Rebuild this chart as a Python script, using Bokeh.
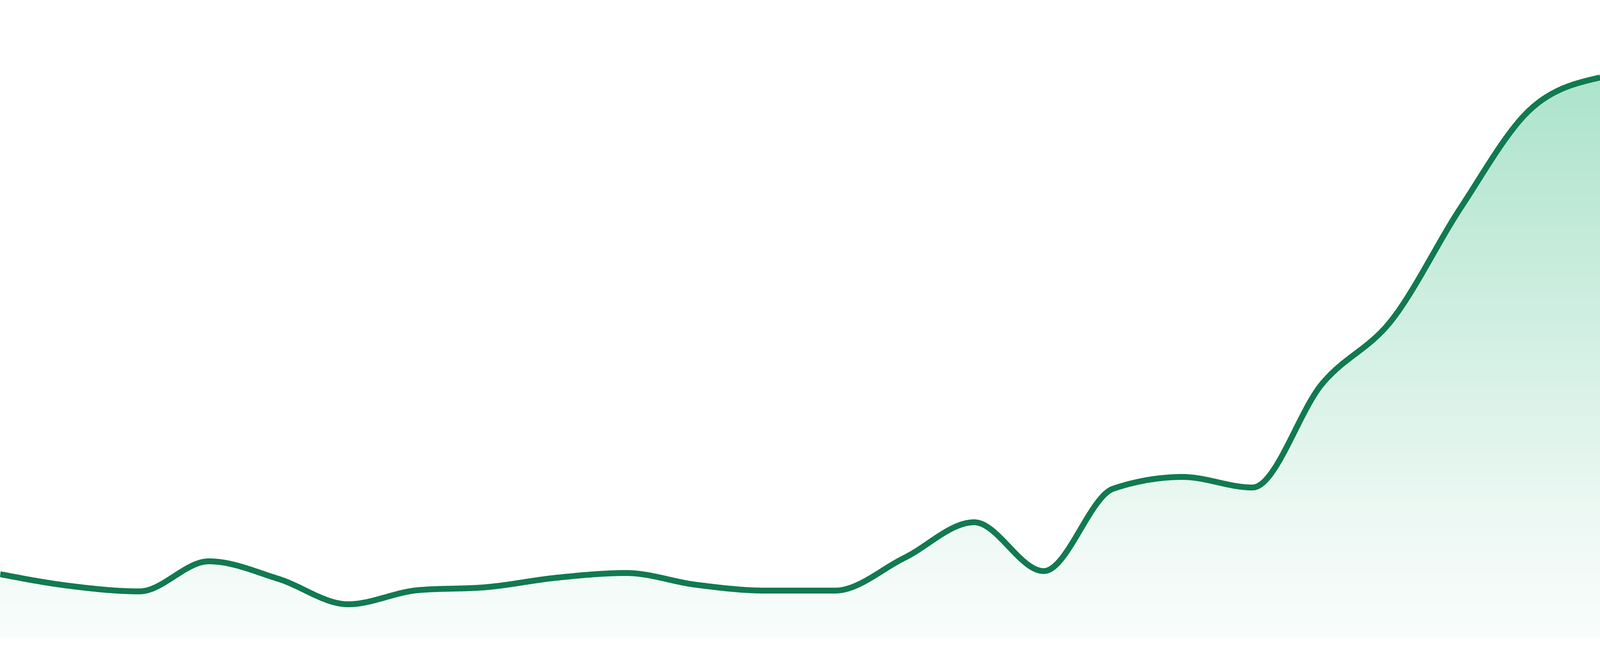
import numpy as np
from bokeh.plotting import figure
from bokeh.models import Range1d, ColumnDataSource
from bokeh.embed import file_html
from bokeh.resources import INLINE

# ---- data -------------------------------------------------------------
steps = list(range(24))
values = [162, 132, 118, 195, 150, 85, 121, 129, 153, 165, 135, 120,
          120, 204, 295, 170, 381, 411, 384, 649, 812, 1102, 1353, 1434]

# ---- style ------------------------------------------------------------
line_color = "#117a51"
grad_pos = [0, 252, 1434]
grad_r = [249, 239, 173]
grad_g = [253, 249, 227]
grad_b = [252, 245, 204]


def monotone_x(xs, ys, per=64):
    xs = np.asarray(xs, float)
    ys = np.asarray(ys, float)
    n = len(xs)
    h = np.diff(xs)
    s = np.diff(ys) / h
    t = np.zeros(n)
    for i in range(1, n - 1):
        h0, h1 = h[i - 1], h[i]
        s0, s1 = s[i - 1], s[i]
        p = (s0 * h1 + s1 * h0) / (h0 + h1)
        t[i] = (np.sign(s0) + np.sign(s1)) * min(abs(s0), abs(s1), 0.5 * abs(p))
    t[0] = (3 * s[0] - t[1]) / 2
    t[-1] = (3 * s[-1] - t[-2]) / 2
    ox, oy = [], []
    for i in range(n - 1):
        u = np.linspace(0, 1, per, endpoint=(i == n - 2))
        h00 = 2 * u**3 - 3 * u**2 + 1
        h10 = u**3 - 2 * u**2 + u
        h01 = -2 * u**3 + 3 * u**2
        h11 = u**3 - u**2
        ox.append(xs[i] + u * h[i])
        oy.append(h00 * ys[i] + h10 * h[i] * t[i] + h01 * ys[i + 1] + h11 * h[i] * t[i + 1])
    return np.concatenate(ox), np.concatenate(oy)


xd, yd = monotone_x(steps, values)

p = figure(width=4096, height=1630, title=None, sizing_mode="stretch_both",
           x_range=Range1d(steps[0], steps[-1]),
           y_range=Range1d(-48, 1632),
           output_backend="svg", toolbar_location=None,
           x_axis_location=None, y_axis_location=None,
           min_border=0)
p.grid.visible = False
p.outline_line_color = None
p.background_fill_color = "white"
p.border_fill_color = "white"

# gradient fill as stacked bands (top band first)
top = max(values)
edges = np.linspace(0, top, 160)
for k in reversed(range(len(edges) - 1)):
    mid = 0.5 * (edges[k] + edges[k + 1])
    r = int(round(np.interp(mid, grad_pos, grad_r)))
    g = int(round(np.interp(mid, grad_pos, grad_g)))
    b = int(round(np.interp(mid, grad_pos, grad_b)))
    src = ColumnDataSource(dict(x=xd, y1=np.zeros_like(yd), y2=np.minimum(yd, edges[k + 1])))
    p.varea(x="x", y1="y1", y2="y2", source=src,
            fill_color="#%02x%02x%02x" % (r, g, b), fill_alpha=1.0)

p.line(xd, yd, line_width=15, line_color=line_color, line_join="round")

open("out.html", "w").write(file_html(p, INLINE))
